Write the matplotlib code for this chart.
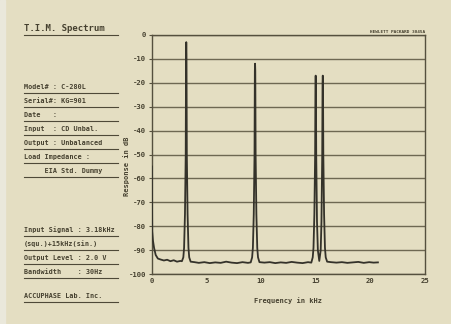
import matplotlib
matplotlib.use('Agg')
import matplotlib.pyplot as plt
from matplotlib.patches import Rectangle

# trace (kHz, dB)
freq = [0.00, 0.03, 0.10, 0.20, 0.35, 0.55, 0.80, 1.10, 1.40, 1.70, 2.00, 2.30, 2.60, 2.75,
        2.88, 2.95, 3.03, 3.10, 3.13, 3.15, 3.17, 3.20, 3.27, 3.35, 3.42, 3.55,
        3.90, 4.30, 4.80, 5.30, 5.80, 6.30, 6.80, 7.30, 7.80, 8.30, 8.80, 9.05,
        9.18, 9.25, 9.33, 9.40, 9.43, 9.45, 9.47, 9.50, 9.57, 9.65, 9.72, 9.85,
        10.3, 10.8, 11.3, 11.8, 12.3, 12.8, 13.3, 13.8, 14.3, 14.60,
        14.73, 14.80, 14.88, 14.95, 14.98, 15.00, 15.02, 15.05, 15.12, 15.20,
        15.33,
        15.46, 15.53, 15.60, 15.63, 15.65, 15.67, 15.70, 15.77, 15.85, 15.92, 16.05,
        16.4, 16.9, 17.4, 17.9, 18.4, 18.9, 19.4, 19.9, 20.3, 20.7]
resp = [-55, -82, -86, -89, -92, -93.5, -93.9, -94.3, -94.0, -94.6, -94.2, -94.8, -94.5, -94.6,
        -93, -89, -75, -50, -8, -3, -8, -50, -75, -89, -93, -94.8,
        -95.0, -95.3, -95.0, -95.4, -95.1, -95.3, -94.8, -95.2, -95.4, -95.0, -95.3, -95.1,
        -93, -89, -75, -50, -15, -12, -15, -50, -75, -89, -93, -95.0,
        -95.2, -95.0, -95.4, -95.1, -95.3, -94.9, -95.2, -95.4, -95.0, -95.2,
        -93, -89, -75, -50, -20, -17, -20, -50, -78, -90,
        -94.5,
        -90, -78, -50, -20, -17, -20, -50, -75, -89, -93, -94.8,
        -95.0, -95.2, -95.0, -95.3, -95.1, -94.9, -95.3, -95.0, -95.2, -95.1]

yticks = [0, -10, -20, -30, -40, -50, -60, -70, -80, -90, -100]
xticks = [0, 5, 10, 15, 20, 25]

info_top = ['Model# : C-280L', 'Serial#: KG=901', 'Date   :', 'Input  : CD Unbal.',
            'Output : Unbalanced', 'Load Impedance :', '     EIA Std. Dummy']
info_bottom = ['Input Signal : 3.18kHz', '(squ.)+15kHz(sin.)', 'Output Level : 2.0 V',
               'Bandwidth    : 30Hz']

bg = '#e4dec2'
ink = '#45402f'
mono = 'DejaVu Sans Mono'

fig = plt.figure(figsize=(4.52, 3.24), dpi=100, facecolor=bg)
fig.patches.append(Rectangle((0, 0), 0.012, 1, transform=fig.transFigure, color='#eae8db', zorder=0))

ax = fig.add_axes([0.336, 0.154, 0.604, 0.738])
ax.set_facecolor(bg)
ax.plot(freq, resp, color='#34322a', lw=1.3, zorder=3)
ax.set_xlim(0, 25)
ax.set_ylim(-100, 0)
ax.set_yticks(yticks)
ax.set_xticks(xticks)
ax.set_yticklabels([str(v) for v in yticks], family=mono, fontsize=5.2, fontweight='bold', color=ink)
ax.set_xticklabels([str(v) for v in xticks], family=mono, fontsize=5.2, fontweight='bold', color=ink)
ax.tick_params(axis='y', length=2.5, width=0.8, color='#55503e', pad=1.5)
ax.tick_params(axis='x', length=0, pad=3)
ax.grid(axis='y', color='#6e6852', lw=1.0)
for s in ax.spines.values():
    s.set_color('#55503e')
    s.set_linewidth(1.0)
ax.set_ylabel('Response in dB', family=mono, fontsize=5.0, fontweight='bold', color=ink)
ax.yaxis.set_label_coords(-0.08, 0.45)
ax.set_xlabel('Frequency in kHz', family=mono, fontsize=5.0, fontweight='bold', color=ink, labelpad=9)
ax.text(1.0, 1.006, 'HEWLETT PACKARD 3045A', transform=ax.transAxes, ha='right', va='bottom',
        family=mono, fontsize=3.2, fontweight='bold', color=ink)

# left-hand note panel, positions in pixels from the top-left
def note(y, s, size=4.9):
    fig.text(24 / 452, 1 - y / 324, s, family=mono, fontsize=size, fontweight='bold',
             color=ink, va='baseline', ha='left')
    fig.add_artist(plt.Line2D([24 / 452, 118 / 452], [1 - (y + 4) / 324] * 2,
                              color='#4e4938', lw=0.8))

note(31, 'T.I.M. Spectrum', size=6.5)
for i, s in enumerate(info_top):
    note(89 + i * 14, s)
for i, s in enumerate(info_bottom):
    note(232 + i * 14, s)
note(298, 'ACCUPHASE Lab. Inc.')

fig.savefig('out.png', dpi=100, facecolor=bg)
